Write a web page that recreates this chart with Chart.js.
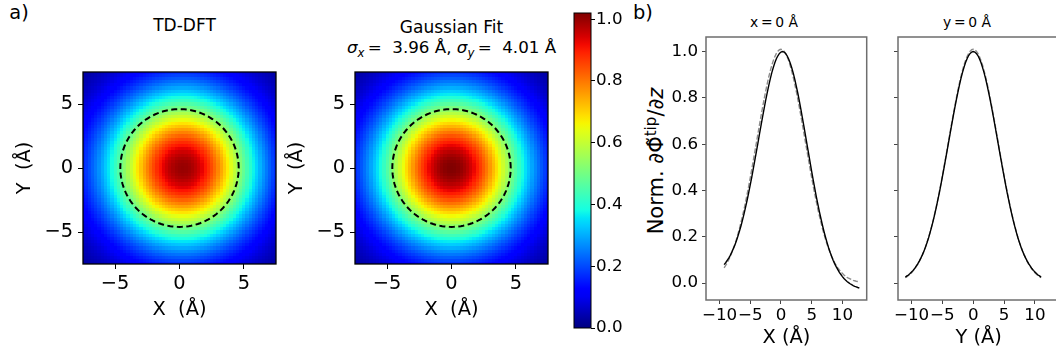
<!DOCTYPE html>
<html>
<head>
<meta charset="utf-8">
<script src="https://cdn.jsdelivr.net/npm/chart.js@4.4.1/dist/chart.umd.min.js"></script>
<style>
  html, body { margin:0; padding:0; background:#fff; }
  body { position:relative; width:1056px; height:353px; overflow:hidden; font-family:"DejaVu Sans", sans-serif; color:#000; }
  canvas { position:absolute; top:0; }
  .lbl { position:absolute; white-space:nowrap; line-height:1; transform:translate(-50%,-50%); }
  .lbl sup { font-size:72%; position:relative; top:-0.15em; vertical-align:top; line-height:1; }
  .lbl sub { font-size:70%; position:relative; top:0.35em; vertical-align:baseline; line-height:1; }
</style>
</head>
<body>
<div class="lbl" style="left:19px;top:13px;font-size:19.4px">a)</div>
<div class="lbl" style="left:643px;top:13px;font-size:19.4px">b)</div>
<div class="lbl" style="left:184.5px;top:25px;font-size:17px">TD-DFT</div>
<div class="lbl" style="left:451.5px;top:26.5px;font-size:17px">Gaussian Fit</div>
<div class="lbl" style="left:451.5px;top:47px;font-size:16.7px"><i>σ</i><sub><i>x</i></sub>&thinsp;=&nbsp; 3.96 Å, <i>σ</i><sub><i>y</i></sub>&thinsp;=&nbsp; 4.01 Å</div>
<div class="lbl" style="left:774px;top:23px;font-size:13.9px">x&thinsp;=&thinsp;0 Å</div>
<div class="lbl" style="left:967px;top:23px;font-size:13.9px">y&thinsp;=&thinsp;0 Å</div>
<div class="lbl" style="left:656px;top:161px;font-size:21px;transform:translate(-50%,-50%) rotate(-90deg)">Norm. ∂Φ̃<sup>tip</sup>/∂<i>z</i></div>

<canvas id="heat-td" style="left:0px" width="290" height="353"></canvas>
<canvas id="heat-fit" style="left:270px" width="290" height="353"></canvas>
<canvas id="cbar" style="left:560px" width="75" height="353"></canvas>
<canvas id="cut-x" style="left:630px" width="250" height="353"></canvas>
<canvas id="cut-y" style="left:880px" width="185" height="353"></canvas>

<script>
// sample grid of the profiles (Å)
const STEP    = 0.25;
const X_START = -9.25;   // x = 0 cut, -9.25 .. 12.75
const Y_START = -11;     // y = 0 cut, -11 .. 11

// x = 0 cut: TD-DFT (solid) and Gaussian fit (dashed)
const TD_X = [
  .080,.088,.098,.108,.120,.134,.149,.165,.183,.203,.225,.248,.273,.300,.329,.359,.391,.424,.458,.494,
  .531,.568,.605,.643,.680,.717,.753,.788,.821,.852,.881,.908,.931,.952,.969,.982,.992,.998,1.000,.998,
  .992,.982,.968,.951,.930,.907,.880,.850,.819,.785,.749,.712,.675,.636,.597,.559,.520,.482,.445,.409,
  .374,.341,.309,.279,.250,.223,.198,.175,.153,.133,.115,.098,.083,.070,.058,.046,.037,.028,.020,.013,
  .007,.002,-.003,-.007,-.011,-.014,-.016,-.019,-.021
];
const FIT_X = [
  .066,.076,.088,.101,.115,.131,.149,.168,.189,.212,.236,.263,.291,.320,.352,.385,.419,.455,.492,.530,
  .568,.606,.645,.683,.721,.758,.794,.827,.859,.889,.916,.940,.961,.978,.992,1.002,1.008,1.010,1.008,1.002,
  .992,.978,.961,.940,.916,.889,.859,.827,.794,.758,.721,.683,.645,.606,.568,.530,.492,.455,.419,.385,
  .352,.320,.291,.263,.236,.212,.189,.168,.149,.131,.115,.101,.088,.076,.066,.057,.049,.042,.035,.030,
  .025,.021,.018,.015,.012,.010,.008,.007,.006
];

// y = 0 cut
const TD_Y = [
  .026,.031,.035,.041,.048,.055,.063,.073,.083,.095,.108,.122,.138,.155,.174,.195,.218,.243,.269,.297,
  .326,.358,.390,.424,.460,.496,.533,.570,.608,.646,.683,.720,.756,.790,.823,.854,.883,.909,.932,.953,
  .969,.983,.992,.998,1.000,.998,.992,.983,.969,.953,.932,.909,.883,.854,.823,.790,.756,.720,.683,.646,
  .608,.570,.533,.496,.460,.424,.390,.358,.326,.297,.269,.243,.218,.195,.174,.155,.138,.122,.108,.095,
  .083,.073,.063,.055,.048,.041,.035,.031,.026
];
const FIT_Y = [
  .023,.028,.033,.038,.045,.053,.061,.071,.081,.093,.107,.122,.138,.156,.176,.197,.220,.245,.271,.300,
  .330,.361,.394,.429,.464,.501,.538,.576,.614,.652,.690,.727,.763,.798,.832,.863,.892,.918,.942,.962,
  .979,.992,1.002,1.008,1.010,1.008,1.002,.992,.979,.962,.942,.918,.892,.863,.832,.798,.763,.727,.690,.652,
  .614,.576,.538,.501,.464,.429,.394,.361,.330,.300,.271,.245,.220,.197,.176,.156,.138,.122,.107,.093,
  .081,.071,.061,.053,.045,.038,.033,.028,.023
];

const HEAT_HALF      = 7.5;   // maps span -7.5 .. 7.5 Å
const CONTOUR_RADIUS = 4.6;   // dashed circle, Å
const COLOR_MAX      = 1.02;

const HEAT_TICKS    = [-5, 0, 5];
const PROFILE_TICKS = [-10, -5, 0, 5, 10];
const NORM_TICKS    = [0, 0.2, 0.4, 0.6, 0.8, 1.0];
const CBAR_TICKS    = [0, 0.2, 0.4, 0.6, 0.8, 1.0];

const FONT = '"DejaVu Sans", sans-serif';
Chart.defaults.font.family = FONT;
Chart.defaults.color = '#000';

// ── jet colormap ──────────────────────────────────────────────────────────────
const JET = {
  r: [[0,0],[0.35,0],[0.66,1],[0.89,1],[1,0.5]],
  g: [[0,0],[0.125,0],[0.375,1],[0.64,1],[0.91,0],[1,0]],
  b: [[0,0.5],[0.11,1],[0.34,1],[0.65,0],[1,0]],
};
function seg(pts, t) {
  for (let i = 1; i < pts.length; i++) {
    if (t <= pts[i][0]) {
      const [x0, y0] = pts[i-1], [x1, y1] = pts[i];
      return y0 + (y1 - y0) * (t - x0) / (x1 - x0);
    }
  }
  return pts[pts.length - 1][1];
}
function jetT(t) {
  t = Math.min(1, Math.max(0, t));
  return `rgb(${Math.round(255*seg(JET.r,t))},${Math.round(255*seg(JET.g,t))},${Math.round(255*seg(JET.b,t))})`;
}
const jet = v => jetT(v / COLOR_MAX);

// ── helpers ───────────────────────────────────────────────────────────────────
const minus = v => (v < 0 ? '\u2212' : '') + Math.abs(v);
const fixedTicks = arr => s => { s.ticks = arr.map(v => ({ value: v })); };

function heatCells(px, x0, py, y0) {
  const cells = [];
  px.forEach((vx, i) => {
    const x = x0 + i * STEP;
    if (Math.abs(x) > HEAT_HALF + 1e-9) return;
    py.forEach((vy, j) => {
      const y = y0 + j * STEP;
      if (Math.abs(y) > HEAT_HALF + 1e-9) return;
      cells.push({ x, y, v: vx * vy });
    });
  });
  return cells;
}

function circlePoints() {
  const pts = [];
  for (let k = 0; k <= 160; k++) {
    const a = 2 * Math.PI * k / 160;
    pts.push({ x: CONTOUR_RADIUS * Math.cos(a), y: CONTOUR_RADIUS * Math.sin(a) });
  }
  return pts;
}

// cells of the maps, drawn under the datasets
const heatPlugin = {
  id: 'heat',
  beforeDatasetsDraw(chart) {
    const { ctx, chartArea: a, scales: { x, y } } = chart;
    ctx.save();
    ctx.beginPath(); ctx.rect(a.left, a.top, a.width, a.height); ctx.clip();
    chart.data.datasets.forEach(ds => {
      if (!ds.cells) return;
      const h = STEP / 2;
      ds.data.forEach(c => {
        const x0 = Math.round(x.getPixelForValue(c.x - h)), x1 = Math.round(x.getPixelForValue(c.x + h));
        const y0 = Math.round(y.getPixelForValue(c.y + h)), y1 = Math.round(y.getPixelForValue(c.y - h));
        ctx.fillStyle = jet(c.v);
        ctx.fillRect(x0, y0, x1 - x0, y1 - y0);
      });
    });
    ctx.restore();
  }
};

// colour bar gradient along the y scale
const cbarPlugin = {
  id: 'cbar',
  beforeDatasetsDraw(chart) {
    const { ctx, chartArea: a, scales: { y } } = chart;
    const top = y.getPixelForValue(COLOR_MAX), bot = y.getPixelForValue(0);
    const g = ctx.createLinearGradient(0, bot, 0, top);
    for (let k = 0; k <= 40; k++) g.addColorStop(k / 40, jetT(k / 40));
    ctx.fillStyle = g;
    ctx.fillRect(a.left, top, a.width, bot - top);
  }
};

// axes box (all four spines)
const framePlugin = {
  id: 'frame',
  afterDatasetsDraw(chart, args, opts) {
    const { ctx, chartArea: a } = chart;
    ctx.save();
    ctx.strokeStyle = opts.color || '#000';
    ctx.lineWidth = opts.width || 1;
    ctx.strokeRect(a.left, a.top, a.width, a.height);
    ctx.restore();
  }
};

const noPlugins = { legend: { display: false }, tooltip: { enabled: false } };

// ── maps ──────────────────────────────────────────────────────────────────────
function heatChart(id, cells, yAxisW, padRight, yTitlePad) {
  return new Chart(document.getElementById(id), {
    type: 'scatter',
    data: {
      datasets: [
        { data: circlePoints(), showLine: true, borderColor: '#000', borderWidth: 2, borderDash: [6, 3.5], pointRadius: 0 },
        { data: cells, cells: true, pointRadius: 0 },
      ],
    },
    options: {
      responsive: false, animation: false, events: [],
      layout: { padding: { top: 72, right: padRight, left: 0, bottom: 0 } },
      plugins: { ...noPlugins, frame: { color: '#000', width: 1.3 } },
      scales: {
        x: {
          type: 'linear', min: -HEAT_HALF, max: HEAT_HALF,
          afterBuildTicks: fixedTicks(HEAT_TICKS),
          afterFit: s => { s.height = 89; },
          border: { display: false },
          grid: { drawOnChartArea: false, tickLength: 5, color: '#000' },
          ticks: { font: { size: 19.4 }, padding: 3, maxRotation: 0, autoSkip: false, callback: minus },
          title: { display: true, text: 'X  (Å)', font: { size: 19.4 }, padding: { top: 0, bottom: 31.4 } },
        },
        y: {
          type: 'linear', min: -HEAT_HALF, max: HEAT_HALF,
          afterBuildTicks: fixedTicks(HEAT_TICKS),
          afterFit: s => { s.width = yAxisW; },
          border: { display: false },
          grid: { drawOnChartArea: false, tickLength: 5, color: '#000' },
          ticks: { font: { size: 19.4 }, padding: 5, callback: minus },
          title: { display: true, text: 'Y  (Å)', font: { size: 19.4 }, padding: { top: yTitlePad, bottom: 0 } },
        },
      },
    },
    plugins: [heatPlugin, framePlugin],
  });
}

// ── colour bar ────────────────────────────────────────────────────────────────
function colorbar() {
  return new Chart(document.getElementById('cbar'), {
    type: 'scatter',
    data: { datasets: [{ data: [] }] },
    options: {
      responsive: false, animation: false, events: [],
      layout: { padding: { top: 13, bottom: 25, left: 14, right: 0 } },
      plugins: { ...noPlugins, frame: { color: '#000', width: 1 } },
      scales: {
        x: { display: false, min: 0, max: 1 },
        y: {
          position: 'right', min: 0, max: COLOR_MAX,
          afterBuildTicks: fixedTicks(CBAR_TICKS),
          afterFit: s => { s.width = 44; },
          border: { display: false },
          grid: { drawOnChartArea: false, tickLength: 4, color: '#000' },
          ticks: { font: { size: 16.7 }, padding: 1, callback: v => v.toFixed(1) },
        },
      },
    },
    plugins: [cbarPlugin, framePlugin],
  });
}

// ── profile cuts ──────────────────────────────────────────────────────────────
function cutChart(id, start, td, fit, title, yAxisW, padRight, showYLabels) {
  const pts = arr => arr.map((v, i) => ({ x: start + i * STEP, y: v }));
  return new Chart(document.getElementById(id), {
    type: 'scatter',
    data: {
      datasets: [
        { label: 'TD-DFT', data: pts(td), showLine: true, borderColor: '#000', borderWidth: 1.4, pointRadius: 0 },
        { label: 'Gaussian fit', data: pts(fit), showLine: true, borderColor: '#8c8c8c', borderWidth: 1.4, borderDash: [5, 2], pointRadius: 0 },
      ],
    },
    options: {
      responsive: false, animation: false, events: [],
      layout: { padding: { top: 37, right: padRight, left: 0, bottom: 0 } },
      plugins: { ...noPlugins, frame: { color: '#6e6e6e', width: 1.5 } },
      scales: {
        x: {
          type: 'linear', min: -12.2, max: 13.95,
          afterBuildTicks: fixedTicks(PROFILE_TICKS),
          afterFit: s => { s.height = 53; },
          border: { display: false },
          grid: { drawOnChartArea: false, tickLength: 4, color: '#444' },
          ticks: { font: { size: 16.7 }, padding: 2, maxRotation: 0, minRotation: 0, autoSkip: false, callback: minus },
          title: { display: true, text: title, font: { size: 19.4 }, padding: { top: 0, bottom: 3.4 } },
        },
        y: {
          type: 'linear', min: -0.073, max: 1.063,
          afterBuildTicks: fixedTicks(NORM_TICKS),
          afterFit: s => { s.width = yAxisW; },
          border: { display: false },
          grid: { drawOnChartArea: false, tickLength: 4, color: '#444' },
          ticks: { font: { size: 16.7 }, padding: 4, callback: v => showYLabels ? v.toFixed(1) : '' },
        },
      },
    },
    plugins: [framePlugin],
  });
}

document.addEventListener('DOMContentLoaded', () => {
  heatChart('heat-td',  heatCells(TD_X,  X_START, TD_Y,  Y_START), 83, 14, 13.4);
  heatChart('heat-fit', heatCells(FIT_X, X_START, FIT_Y, Y_START), 85, 12, 15);
  colorbar();
  cutChart('cut-x', X_START, TD_X, FIT_X, 'X (Å)', 76, 13.3, true);
  cutChart('cut-y', Y_START, TD_Y, FIT_Y, 'Y (Å)', 18, 5.7, false);
});
</script>
</body>
</html>
